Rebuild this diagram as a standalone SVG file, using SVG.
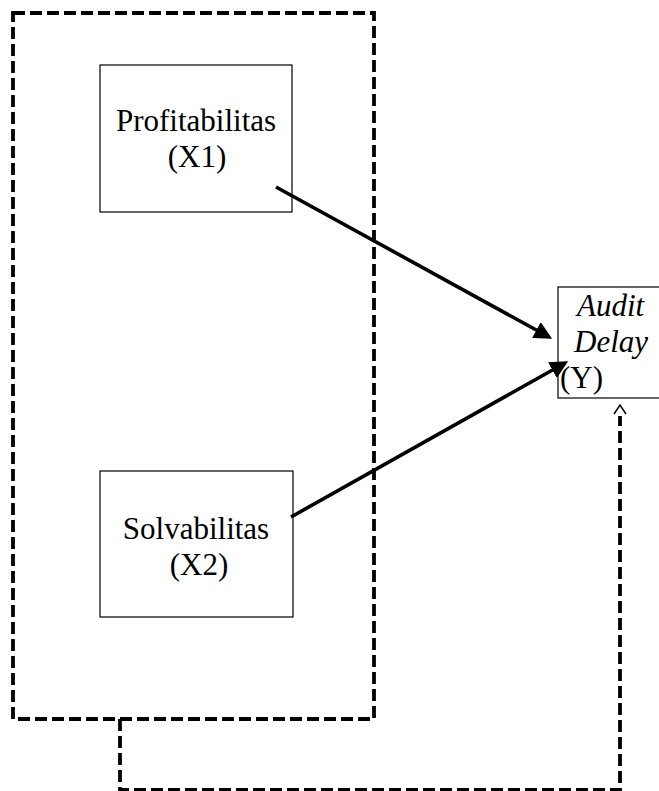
<svg xmlns="http://www.w3.org/2000/svg" width="659" height="791" viewBox="0 0 659 791">
<style>
.box{fill:#fff;stroke:#000;stroke-width:1.2}
.dash{fill:none;stroke:#000;stroke-width:3.8;stroke-dasharray:12 5}
.arr{fill:none;stroke:#000;stroke-width:3.6}
.t{font-family:"Liberation Serif","Times New Roman",serif;font-size:31px;fill:#000}
.i{font-style:italic}
</style>
<defs>
<marker id="ah" markerWidth="5" markerHeight="5" refX="4" refY="2.5" orient="auto" markerUnits="strokeWidth">
<path d="M0,0 L5,2.5 L0,5 Z" fill="#000"/>
</marker>
</defs>
<rect width="659" height="791" fill="#fff"/>
<g id="group-box">
<rect class="dash" x="13" y="13" width="361" height="706"/>
</g>
<g id="node-x1">
<rect class="box" x="100" y="65" width="192" height="147"/>
<text class="t" x="196" y="131" text-anchor="middle">Profitabilitas</text>
<text class="t" x="197" y="167" text-anchor="middle">(X1)</text>
</g>
<g id="node-x2">
<rect class="box" x="100" y="471" width="193" height="146"/>
<text class="t" x="196" y="539" text-anchor="middle">Solvabilitas</text>
<text class="t" x="199" y="575" text-anchor="middle">(X2)</text>
</g>
<g id="node-y">
<rect class="box" x="558" y="287" width="120" height="111"/>
<text class="t i" x="577" y="316">Audit</text>
<text class="t i" x="574" y="352">Delay</text>
<text class="t" x="560" y="388">(Y)</text>
</g>
<g id="connectors">
<line class="arr" x1="276" y1="187" x2="549" y2="337" marker-end="url(#ah)"/>
<line class="arr" x1="291" y1="517" x2="565" y2="363" marker-end="url(#ah)"/>
<path class="dash" d="M120,719 V790 H620 V416"/>
<path d="M614,414 L620,405 L626,414" fill="none" stroke="#000" stroke-width="1.5"/>
</g>
</svg>
